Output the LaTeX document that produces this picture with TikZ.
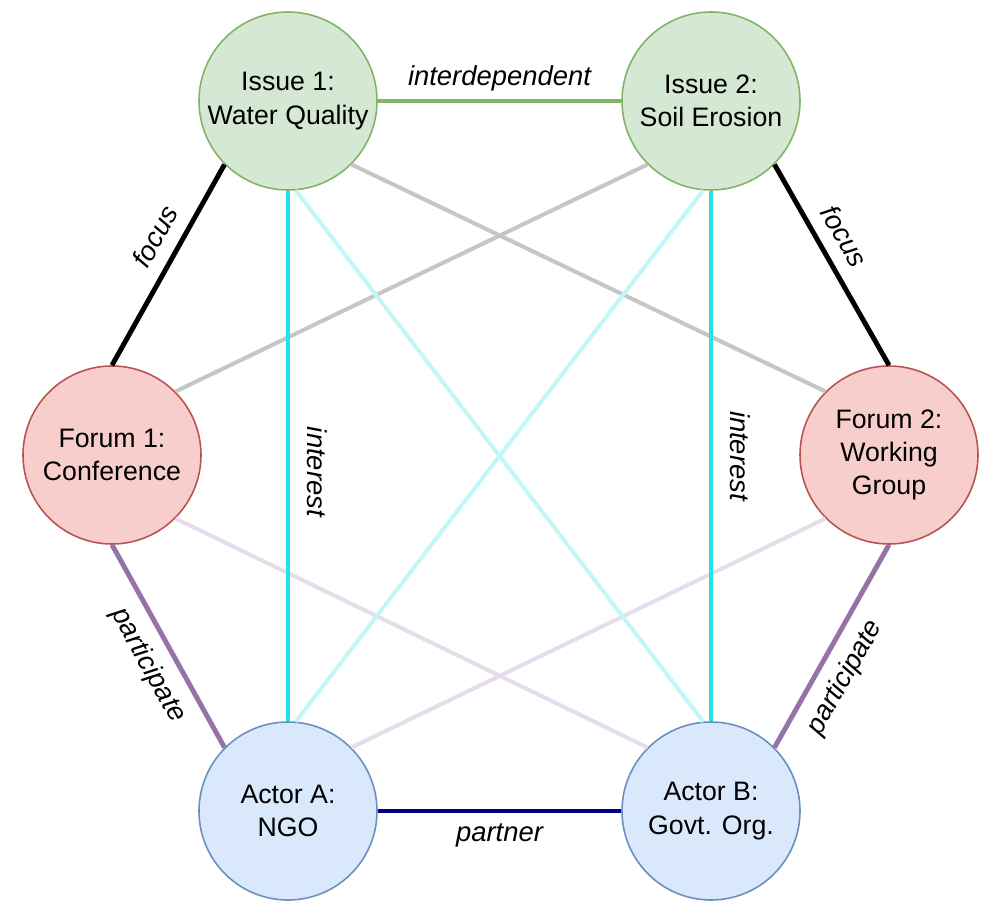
\documentclass[tikz,border=0pt]{standalone}
\usepackage{fontspec}
\setmainfont{Liberation Sans}
\usepackage{color}
\usepackage{tikz}

\definecolor{issuefill}{HTML}{D5E8D4}
\definecolor{issueline}{HTML}{82B366}
\definecolor{forumfill}{HTML}{F8CECC}
\definecolor{forumline}{HTML}{B85450}
\definecolor{actorfill}{HTML}{DAE8FC}
\definecolor{actorline}{HTML}{6C8EBF}
\definecolor{interestcol}{HTML}{22E4E8}
\definecolor{faintcyan}{HTML}{C2F7F8}
\definecolor{greycol}{HTML}{C6C6C6}
\definecolor{partcol}{HTML}{9673A6}
\definecolor{faintpurple}{HTML}{E6DCEB}
\definecolor{partnercol}{HTML}{00007F}

\begin{document}
\begin{tikzpicture}[
    interdep/.style={draw=issueline},
    focusedge/.style={draw=black},
    interestedge/.style={draw=interestcol},
    partedge/.style={draw=partcol},
    partneredge/.style={draw=partnercol},
    weakcyan/.style={draw=faintcyan,line width=2.3pt},
    weakgrey/.style={draw=greycol,line width=2.3pt},
    weakpurple/.style={draw=faintpurple,line width=2.3pt}]

      \useasboundingbox (0,0) rectangle (19.86,18.32);

      \begin{scope}[every node/.style={circle,draw,line width=0.9pt,minimum size=3.56cm,
          inner sep=0pt,align=center,font=\fontsize{15.2}{19}\selectfont}]
        \node[fill=issuefill,draw=issueline] (i1) at (5.76,16.30) {Issue 1:\\Water Quality};
        \node[fill=issuefill,draw=issueline] (i2) at (14.22,16.30) {Issue 2:\\Soil Erosion};
        \node[fill=forumfill,draw=forumline] (f1) at (2.24,9.22) {Forum 1:\\Conference};
        \node[fill=forumfill,draw=forumline] (f2) at (17.78,9.22) {Forum 2:\\Working\\Group};
        \node[fill=actorfill,draw=actorline] (a) at (5.76,2.10) {Actor A:\\NGO};
        \node[fill=actorfill,draw=actorline] (b) at (14.22,2.10) {Actor B:\\Govt. Org.};
      \end{scope}

      \begin{scope}[every node/.style={font=\fontsize{15.6}{18}\selectfont\itshape},
          every edge/.style={draw,line width=2.8pt}]
        % faint cross links
        \path (i1.-45) edge[weakgrey] (f2.135);
        \path (i2.-135) edge[weakgrey] (f1.45);
        \path (f1.-45) edge[weakpurple] (b.135);
        \path (f2.-135) edge[weakpurple] (a.45);
        \path (i1.-85) edge[weakcyan] (b.95);
        \path (i2.-95) edge[weakcyan] (a.85);
        % labelled links
        \path (i1.east) edge[interdep] node[above=0.02cm] {interdependent} (i2.west);
        \path (f1.north) edge[focusedge] node[sloped,above=0.14cm,pos=0.58] {focus} (i1.225);
        \path (i2.-45) edge[focusedge] node[sloped,above=0.14cm,pos=0.42] {focus} (f2.north);
        \path (i1.south) edge[interestedge] node[sloped,above=0.22cm,pos=0.53] {interest} (a.north);
        \path (i2.south) edge[interestedge] node[sloped,above=0.22cm,pos=0.50] {interest} (b.north);
        \path (f1.south) edge[partedge] node[sloped,below=0.12cm,pos=0.53] {participate} (a.135);
        \path (b.45) edge[partedge] node[sloped,below=0.12cm,pos=0.41] {participate} (f2.south);
        \path (a.east) edge[partneredge] node[below=0.08cm] {partner} (b.west);
      \end{scope}
    \end{tikzpicture}
\end{document}
